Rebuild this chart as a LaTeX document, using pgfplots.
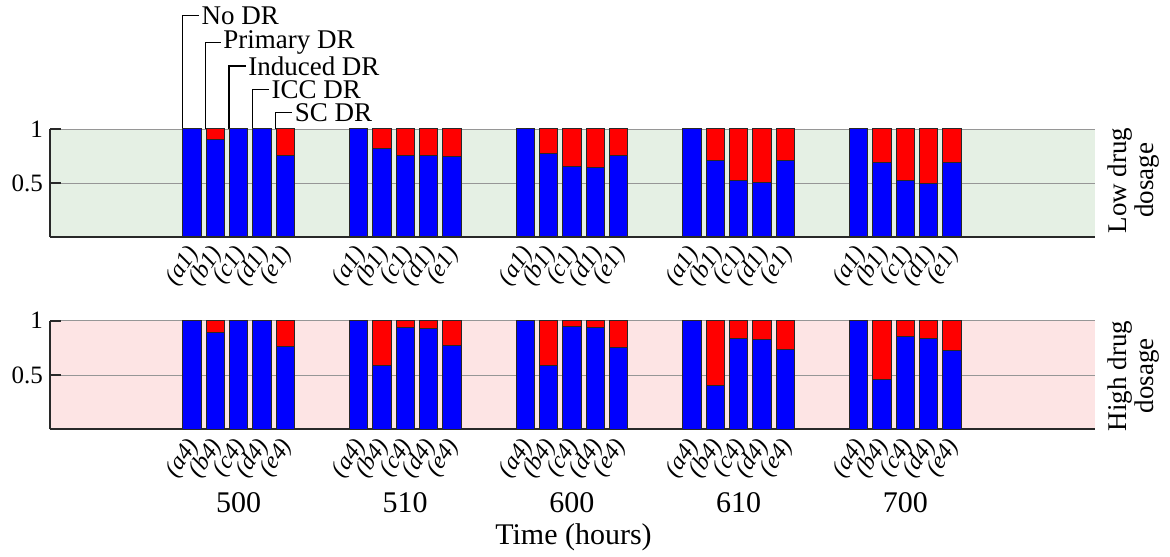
\documentclass[border=0pt]{standalone}
\usepackage{fontspec}
\setmainfont{Liberation Serif}
\usepackage{pgfplots}
\pgfplotsset{compat=1.18}
\usepackage{pgfplotstable}

\definecolor{bgG}{RGB}{229,240,228}
\definecolor{bgR}{RGB}{253,228,228}
\definecolor{edgec}{RGB}{40,40,40}
\definecolor{gridc}{RGB}{150,150,150}

% x  blue  red
\pgfplotstableread{
x b r
0.72 1.000 0.000
0.86 0.905 0.095
1.00 1.000 0.000
1.14 1.000 0.000
1.28 0.756 0.244
1.72 1.000 0.000
1.86 0.824 0.176
2.00 0.756 0.244
2.14 0.756 0.244
2.28 0.744 0.256
2.72 1.000 0.000
2.86 0.775 0.225
3.00 0.654 0.346
3.14 0.645 0.355
3.28 0.756 0.244
3.72 1.000 0.000
3.86 0.704 0.296
4.00 0.525 0.475
4.14 0.509 0.491
4.28 0.710 0.290
4.72 1.000 0.000
4.86 0.691 0.309
5.00 0.525 0.475
5.14 0.491 0.509
5.28 0.694 0.306
}\lowtab

\pgfplotstableread{
x b r
0.72 1.000 0.000
0.86 0.893 0.107
1.00 1.000 0.000
1.14 1.000 0.000
1.28 0.758 0.242
1.72 1.000 0.000
1.86 0.586 0.414
2.00 0.936 0.064
2.14 0.930 0.070
2.28 0.776 0.224
2.72 1.000 0.000
2.86 0.586 0.414
3.00 0.945 0.055
3.14 0.939 0.061
3.28 0.755 0.245
3.72 1.000 0.000
3.86 0.405 0.595
4.00 0.838 0.162
4.14 0.829 0.171
4.28 0.739 0.261
4.72 1.000 0.000
4.86 0.454 0.546
5.00 0.859 0.141
5.14 0.834 0.166
5.28 0.721 0.279
}\hightab

\pgfplotsset{
  mypanel/.style={
    scale only axis, width=522.5pt, height=54pt,
    xmin=-0.131, xmax=6.138, ymin=0, ymax=1,
    ytick={0.5,1}, yticklabels={0.5,1},
    axis x line*=bottom, axis y line*=left,
    axis line style={color=edgec, line width=1pt},
    ymajorgrids, grid style={color=gridc, line width=0.4pt},
    major tick length=5.5pt, tick align=inside,
    ytick style={color=edgec, line width=1pt},
    xtick style={draw=none},
    xtick={0.72,0.86,1.00,1.14,1.28,1.72,1.86,2.00,2.14,2.28,2.72,2.86,3.00,3.14,3.28,3.72,3.86,4.00,4.14,4.28,4.72,4.86,5.00,5.14,5.28},
    ybar stacked, bar width=0.11,
    x tick label style={xshift=2pt, yshift=-5.5pt, rotate=55, anchor=east, font=\fontsize{12}{13}\selectfont\itshape, inner sep=1pt},
    y tick label style={font=\fontsize{12.5}{14}\selectfont},
    clip=false,
  },
}

\begin{document}
\begin{tikzpicture}
\useasboundingbox (0,0) rectangle (585pt,278pt);

\begin{axis}[mypanel, name=top, at={(25pt,159.5pt)}, anchor=south west,
  axis background/.style={fill=bgG},
  xticklabels={(a1),(b1),(c1),(d1),(e1),(a1),(b1),(c1),(d1),(e1),(a1),(b1),(c1),(d1),(e1),(a1),(b1),(c1),(d1),(e1),(a1),(b1),(c1),(d1),(e1)}]
\addplot[fill=blue, draw=edgec, line width=0.5pt] table[x=x,y=b]{\lowtab};
\addplot[fill=red, draw=edgec, line width=0.5pt] table[x=x,y=r]{\lowtab};
\draw[line width=0.6pt] (axis cs:0.663,1) |- (axis cs:0.763,2.049) node[anchor=west, inner sep=1pt, font=\fontsize{13.5}{15}\selectfont] {No DR};
\draw[line width=0.6pt] (axis cs:0.803,1) |- (axis cs:0.893,1.799) node[anchor=west, inner sep=1pt, font=\fontsize{13.5}{15}\selectfont] {Primary DR};
\draw[line width=0.6pt] (axis cs:0.943,1) |- (axis cs:1.043,1.583) node[anchor=west, inner sep=1pt, font=\fontsize{13.5}{15}\selectfont] {Induced DR};
\draw[line width=0.6pt] (axis cs:1.083,1) |- (axis cs:1.183,1.368) node[anchor=west, inner sep=1pt, font=\fontsize{13.5}{15}\selectfont] {ICC DR};
\draw[line width=0.6pt] (axis cs:1.223,1) |- (axis cs:1.323,1.151) node[anchor=west, inner sep=1pt, font=\fontsize{13.5}{15}\selectfont] {SC DR};
\end{axis}

\begin{axis}[mypanel, name=bot, at={(25pt,63.35pt)}, anchor=south west, height=54.3pt,
  axis background/.style={fill=bgR},
  xticklabels={(a4),(b4),(c4),(d4),(e4),(a4),(b4),(c4),(d4),(e4),(a4),(b4),(c4),(d4),(e4),(a4),(b4),(c4),(d4),(e4),(a4),(b4),(c4),(d4),(e4)}]
\addplot[fill=blue, draw=edgec, line width=0.5pt] table[x=x,y=b]{\hightab};
\addplot[fill=red, draw=edgec, line width=0.5pt] table[x=x,y=r]{\hightab};
\node[font=\fontsize{15}{18}\selectfont, yshift=-36.85pt] at (axis cs:1,0) {500};
\node[font=\fontsize{15}{18}\selectfont, yshift=-36.85pt] at (axis cs:2,0) {510};
\node[font=\fontsize{15}{18}\selectfont, yshift=-36.85pt] at (axis cs:3,0) {600};
\node[font=\fontsize{15}{18}\selectfont, yshift=-36.85pt] at (axis cs:4,0) {610};
\node[font=\fontsize{15}{18}\selectfont, yshift=-36.85pt] at (axis cs:5,0) {700};
\node[font=\fontsize{15}{18}\selectfont, yshift=-53.85pt, xshift=0.5pt] at (axis description cs:0.5,0) {Time (hours)};
\end{axis}

\node[rotate=90, align=center, font=\fontsize{13.5}{13.5}\selectfont] at (567pt,187.75pt) {Low drug\\dosage};
\node[rotate=90, align=center, font=\fontsize{13.5}{13.5}\selectfont] at (567pt,90pt) {High drug\\dosage};
\end{tikzpicture}
\end{document}
